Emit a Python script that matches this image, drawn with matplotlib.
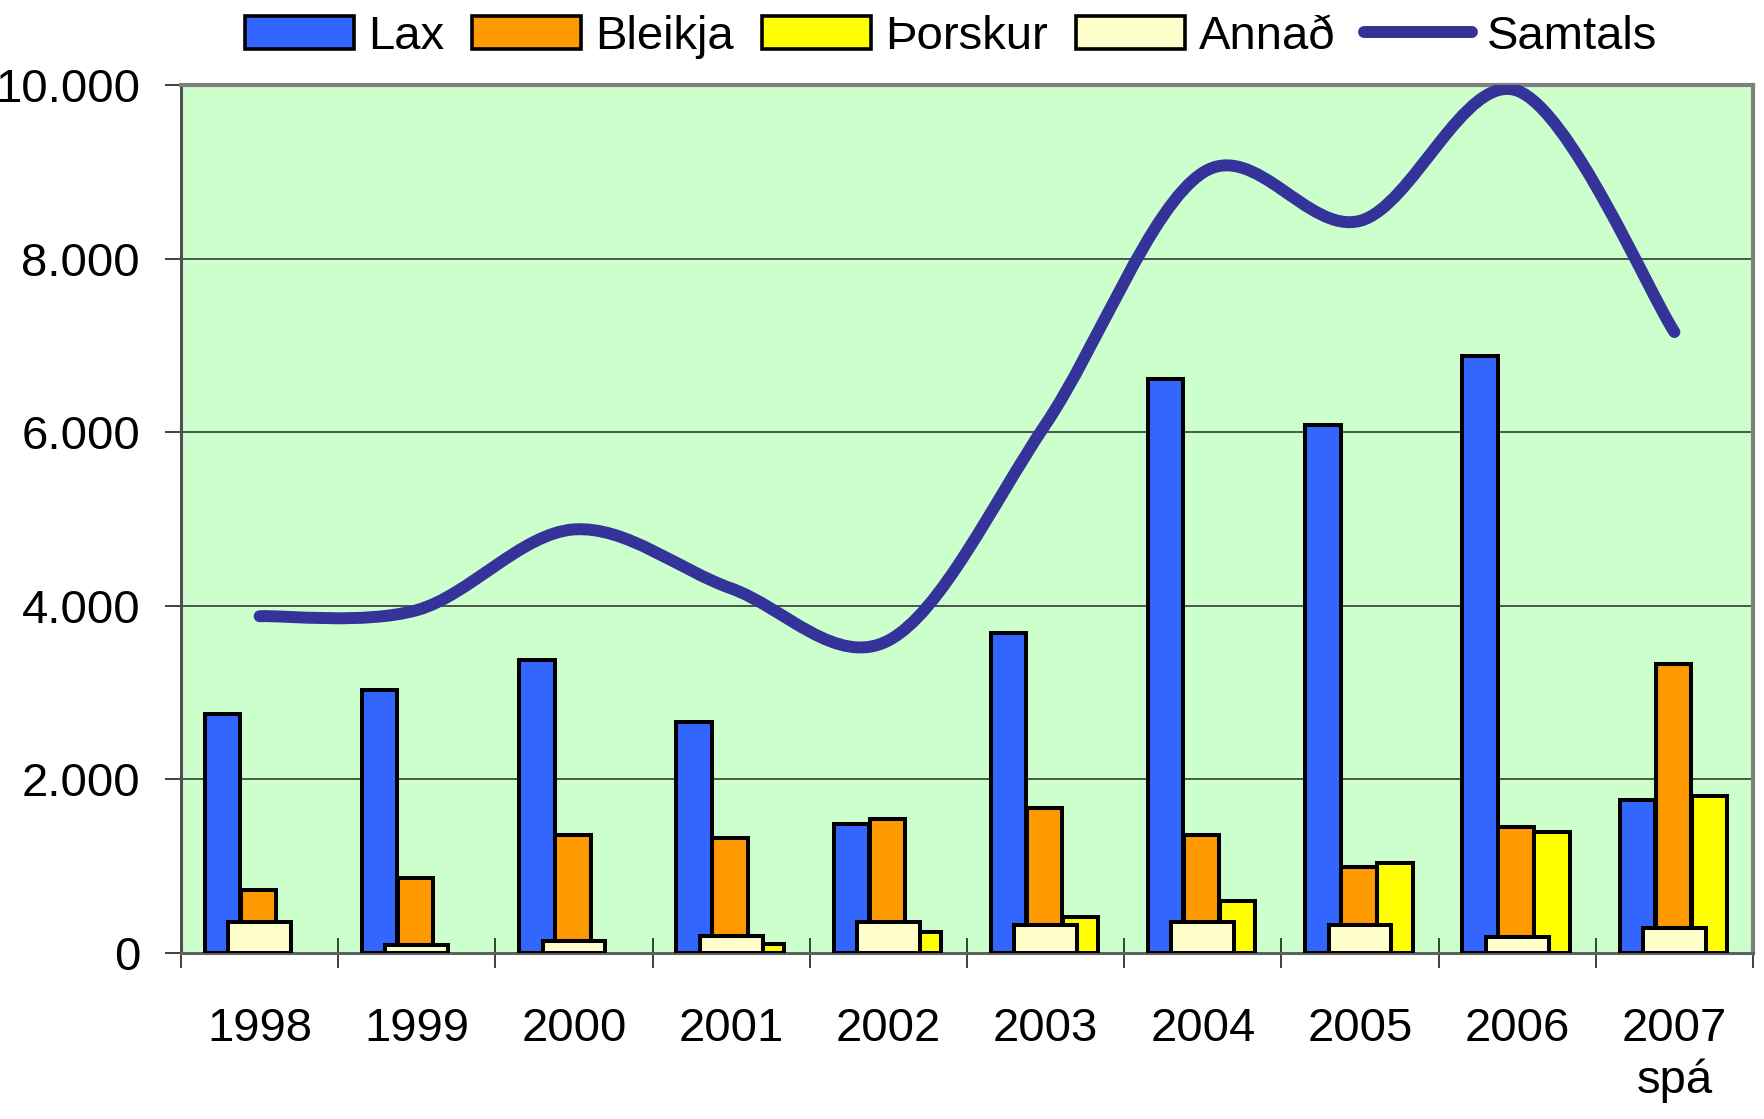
# -*- coding: utf-8 -*-
"""Fiskeldi: framleidsla eftir tegundum 1998-2007"""
import numpy as np
import matplotlib.pyplot as plt
from matplotlib.path import Path
from matplotlib.patches import PathPatch, Patch
from matplotlib.lines import Line2D

plt.rcParams['font.family'] = ['Liberation Sans', 'DejaVu Sans']

years = ['1998', '1999', '2000', '2001', '2002', '2003', '2004', '2005', '2006', '2007\nspá']
lax = [2755, 3027, 3376, 2665, 1488, 3687, 6611, 6080, 6882, 1759]
bleikja = [724, 867, 1358, 1320, 1540, 1669, 1358, 996, 1449, 3325]
thorskur = [0, 0, 0, 103, 246, 414, 595, 1035, 1397, 1811]
annad = [362, 90, 142, 194, 362, 323, 362, 323, 181, 285]
samtals = [3880, 3950, 4880, 4200, 3600, 6090, 8990, 8435, 9935, 7154]

ytick_vals = [0, 2000, 4000, 6000, 8000, 10000]
ytick_labels = ['0', '2.000', '4.000', '6.000', '8.000', '10.000']

fs = 34
fig = plt.figure(figsize=(17.64, 11.19), dpi=100)
ax = fig.add_axes([181/1764, 1 - 953/1119, (1753-181)/1764, (953-85)/1119])
ax.set_facecolor('#CCFFCC')

x = np.arange(len(years))
w = 0.226

def draw(vals, offs, width, color, z):
    v = np.array(vals, dtype=float)
    m = v > 0
    ax.bar(x[m] + offs, v[m], width, color=color, edgecolor='black', linewidth=2.9, zorder=z)

draw(lax, -0.236, w, '#3366FF', 3)
draw(bleikja, -0.007, w, '#FF9900', 3)
draw(thorskur, 0.222, w, '#FFFF00', 3)
draw(annad, 0.0, 0.4, '#FFFFCC', 4)

# smoothed line like excel (catmull-rom bezier)
pts = np.column_stack([x, samtals]).astype(float)
verts = [pts[0]]
codes = [Path.MOVETO]
n = len(pts)
for i in range(n - 1):
    p0 = pts[max(i - 1, 0)]
    p1 = pts[i]
    p2 = pts[i + 1]
    p3 = pts[min(i + 2, n - 1)]
    verts += [p1 + (p2 - p0) / 6, p2 - (p3 - p1) / 6, p2]
    codes += [Path.CURVE4] * 3
line = PathPatch(Path(verts, codes), facecolor='none', edgecolor='#333399',
                 linewidth=8.6, capstyle='round', joinstyle='round', zorder=5)
ax.add_patch(line)

ax.set_xlim(-0.5, len(years) - 0.5)
ax.set_ylim(0, 10000)
ax.set_yticks(ytick_vals)
ax.set_yticklabels(ytick_labels, fontsize=fs)
ax.tick_params(axis='y', direction='out', length=11.5, width=1.3, color='#303030', pad=18)
ax.yaxis.grid(True, color='#3f4a3f', linewidth=1.3, zorder=1)
ax.set_axisbelow(True)

ax.set_xticks(np.arange(len(years) + 1) - 0.5)
ax.set_xticklabels([])
ax.tick_params(axis='x', which='major', direction='inout', length=22, width=1.3, color='#303030')
ax.set_xticks(x, minor=True)
ax.set_xticklabels(years, minor=True, fontsize=fs)
ax.tick_params(axis='x', which='minor', length=0, pad=39)

ax.spines['left'].set_color('#505050')
ax.spines['left'].set_linewidth(2.2)
ax.spines['bottom'].set_color('#606060')
ax.spines['bottom'].set_linewidth(2.2)
ax.spines['top'].set_color('#808080')
ax.spines['top'].set_linewidth(3)
ax.spines['right'].set_color('#808080')
ax.spines['right'].set_linewidth(3)

handles = [Patch(facecolor='#3366FF', edgecolor='black', linewidth=2.6),
           Patch(facecolor='#FF9900', edgecolor='black', linewidth=2.6),
           Patch(facecolor='#FFFF00', edgecolor='black', linewidth=2.6),
           Patch(facecolor='#FFFFCC', edgecolor='black', linewidth=2.6),
           Line2D([], [], color='#333399', linewidth=8.6, solid_capstyle='round')]
labels = ['Lax', 'Bleikja', 'Þorskur', 'Annað', 'Samtals']
fig.legend(handles, labels, ncol=5, loc='center', bbox_to_anchor=(951/1764, 1 - 37/1119),
           frameon=False, fontsize=fs, handlelength=2.3, handleheight=0.7,
           handletextpad=0.3, columnspacing=0.6, borderpad=0, borderaxespad=0)

fig.savefig('out.png', dpi=100)
